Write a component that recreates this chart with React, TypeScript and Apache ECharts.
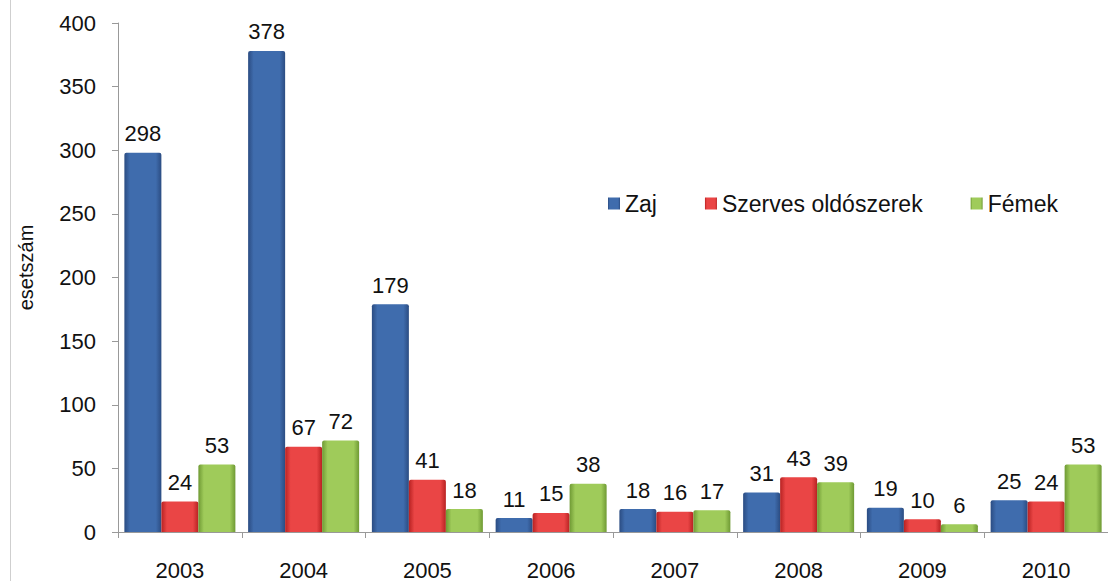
import React, { useEffect, useRef } from "react";
import * as echarts from "echarts";

const years = ["2003", "2004", "2005", "2006", "2007", "2008", "2009", "2010"];
const zaj = [298, 378, 179, 11, 18, 31, 19, 25];
const szerves = [24, 67, 41, 15, 16, 43, 10, 24];
const femek = [53, 72, 18, 38, 17, 39, 6, 53];
const seriesNames = ["Zaj", "Szerves oldószerek", "Fémek"];

const grad = (edge: string, mid: string) =>
  new echarts.graphic.LinearGradient(0, 0, 1, 0, [
    { offset: 0, color: edge },
    { offset: 0.15, color: mid },
    { offset: 0.85, color: mid },
    { offset: 1, color: edge },
  ]);

const FONT = "Liberation Sans, Arial, sans-serif";

export default function App() {
  const ref = useRef<HTMLDivElement>(null);
  useEffect(() => {
    document.body.style.margin = "0";
    const chart = echarts.init(ref.current!, null, { renderer: "svg" });
    const mk = (name: string, data: number[], edge: string, mid: string) => ({
      name,
      type: "bar",
      data,
      barWidth: 37,
      barGap: "0%",
      itemStyle: { color: grad(edge, mid), borderRadius: [2, 2, 0, 0] },
      label: {
        show: true,
        position: "top",
        distance: 8,
        color: "#111",
        fontSize: 22,
        fontFamily: FONT,
      },
    });
    chart.setOption({
      animation: false,
      backgroundColor: "#ffffff",
      color: ["#3a63a0", "#e03a3a", "#93c04e"],
      grid: { left: 118, top: 23, width: 998, height: 510 },
      legend: {
        data: seriesNames,
        left: 603,
        top: 187,
        itemWidth: 12,
        itemHeight: 12,
        itemGap: 48,
        icon: "rect",
        textStyle: { fontSize: 23, fontFamily: FONT, color: "#111" },
      },
      xAxis: {
        type: "category",
        data: years,
        axisLine: { lineStyle: { color: "#999", width: 1 } },
        axisTick: { show: true, length: 6, lineStyle: { color: "#999" } },
        axisLabel: { fontSize: 22, fontFamily: FONT, color: "#111", margin: 27 },
      },
      yAxis: {
        type: "value",
        min: 0,
        max: 400,
        interval: 50,
        name: "esetszám",
        nameLocation: "middle",
        nameGap: 82,
        nameTextStyle: { fontSize: 20, fontFamily: FONT, color: "#111", padding: [0, 0, 0, 20] },
        axisLine: { show: true, lineStyle: { color: "#999", width: 1 } },
        axisTick: { show: true, length: 6, lineStyle: { color: "#999" } },
        axisLabel: { fontSize: 22, fontFamily: FONT, color: "#111", margin: 22 },
        splitLine: { show: false },
      },
      graphic: [
        {
          type: "rect",
          shape: { x: 10, y: 0, width: 1, height: 581 },
          style: { fill: "#cfcfcf" },
          silent: true,
        },
      ],
      series: [
        mk(seriesNames[0], zaj, "#2b4c82", "#3f6cad"),
        mk(seriesNames[1], szerves, "#b82222", "#ea4545"),
        mk(seriesNames[2], femek, "#6f9a34", "#9fcb5a"),
      ],
    });
    return () => chart.dispose();
  }, []);
  return <div ref={ref} style={{ width: 1108, height: 581 }} />;
}
